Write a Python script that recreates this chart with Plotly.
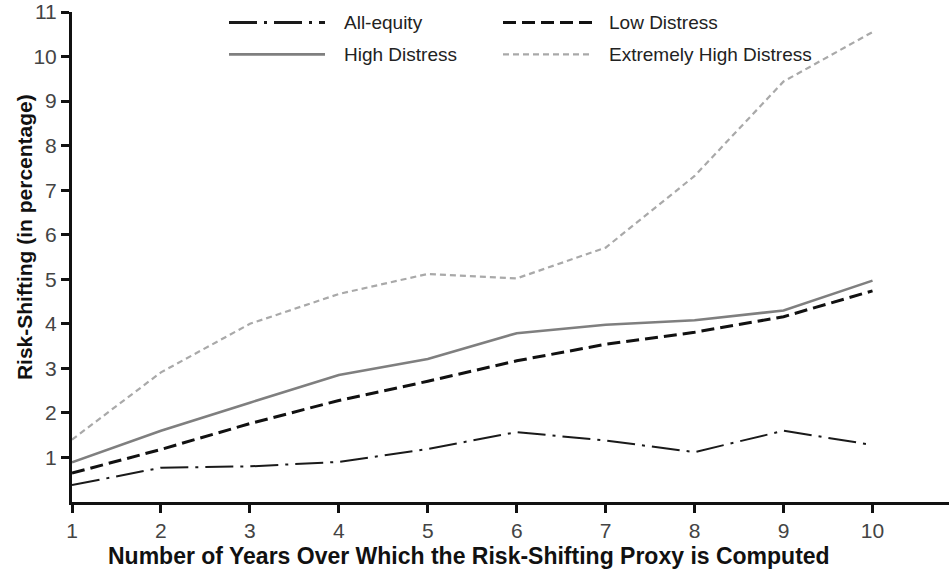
import plotly.graph_objects as go

# Horizon (years) over which the risk-shifting proxy is computed
years = [1, 2, 3, 4, 5, 6, 7, 8, 9, 10]

# Risk-shifting in percentage, by distress group
all_equity = [0.38, 0.77, 0.80, 0.90, 1.19, 1.57, 1.38, 1.12, 1.60, 1.28]
low_distress = [0.65, 1.18, 1.76, 2.28, 2.71, 3.17, 3.54, 3.81, 4.16, 4.74]
high_distress = [0.89, 1.60, 2.23, 2.85, 3.21, 3.79, 3.98, 4.08, 4.30, 4.97]
extreme_distress = [1.40, 2.91, 4.00, 4.67, 5.12, 5.02, 5.71, 7.32, 9.44, 10.55]

y_ticks = [1, 2, 3, 4, 5, 6, 7, 8, 9, 10, 11]
x_ticks = [1, 2, 3, 4, 5, 6, 7, 8, 9, 10]

x_title = "Number of Years Over Which the Risk-Shifting Proxy is Computed"
y_title = "Risk-Shifting (in percentage)"

W, H = 949, 569
ML, MR, MT, MB = 72, 0, 10, 67
FONT = "Liberation Sans, Arial"

series = [
    ("All-equity", all_equity, dict(color="#1a1a1a", width=2, dash="28px,7px,3px,7px")),
    ("Low Distress", low_distress, dict(color="#111111", width=3, dash="13px,6px")),
    ("High Distress", high_distress, dict(color="#7f7f7f", width=2.6)),
    ("Extremely High Distress", extreme_distress, dict(color="#a9a9a9", width=2.2, dash="6px,4px")),
]

fig = go.Figure()
for name, vals, line in series:
    fig.add_trace(go.Scatter(x=years, y=vals, mode="lines", name=name,
                             line=line, showlegend=False))


def px_x(px):
    return (px - ML) / (W - ML - MR)


def px_y(py):
    return 1 - (py - MT) / (H - MT - MB)


# Legend drawn as sample strokes with labels, in two rows of two
legend_slots = [
    (229, 325, 342, 20.5),
    (503, 592, 607, 20.5),
    (229, 325, 342, 52.5),
    (503, 592, 607, 52.5),
]
for (name, _, line), (x0, x1, xt, yy) in zip(series, legend_slots):
    sample = dict(line)
    if name == "All-equity":
        sample["width"] = 3
    fig.add_shape(type="line", xref="paper", yref="paper",
                  x0=px_x(x0), x1=px_x(x1), y0=px_y(yy), y1=px_y(yy),
                  line=sample)
    fig.add_annotation(text=name, xref="paper", yref="paper",
                       x=px_x(xt), y=px_y(yy), xanchor="left", yanchor="middle",
                       showarrow=False,
                       font=dict(family=FONT, size=19, color="#222222"))

# Axis titles
fig.add_annotation(text="<b>" + x_title + "</b>", xref="paper", yref="paper",
                   x=px_x(469), y=px_y(556), xanchor="center", yanchor="middle",
                   showarrow=False, font=dict(family=FONT, size=23, color="#111111"))
fig.add_annotation(text="<b>" + y_title + "</b>", xref="paper", yref="paper",
                   x=px_x(24), y=px_y(236), xanchor="center", yanchor="middle",
                   textangle=-90, showarrow=False,
                   font=dict(family=FONT, size=21, color="#111111"))

fig.update_layout(
    width=W, height=H,
    margin=dict(l=ML, r=MR, t=MT, b=MB),
    paper_bgcolor="white", plot_bgcolor="white",
    font=dict(family=FONT, color="#333333"),
    xaxis=dict(
        range=[1, 10.86], tickvals=x_ticks, ticks="outside", ticklen=8, tickwidth=3,
        tickcolor="#111111", showline=True, linecolor="#111111", linewidth=3,
        showgrid=False, zeroline=False, ticklabeloverflow="allow",
        tickfont=dict(size=21, color="#444444"),
    ),
    yaxis=dict(
        range=[0, 11], tickvals=y_ticks, ticks="outside", ticklen=8, tickwidth=3,
        tickcolor="#111111", showline=True, linecolor="#111111", linewidth=3,
        showgrid=False, zeroline=False, ticklabeloverflow="allow",
        tickfont=dict(size=21, color="#444444"),
    ),
)

fig.write_html("out.html")
